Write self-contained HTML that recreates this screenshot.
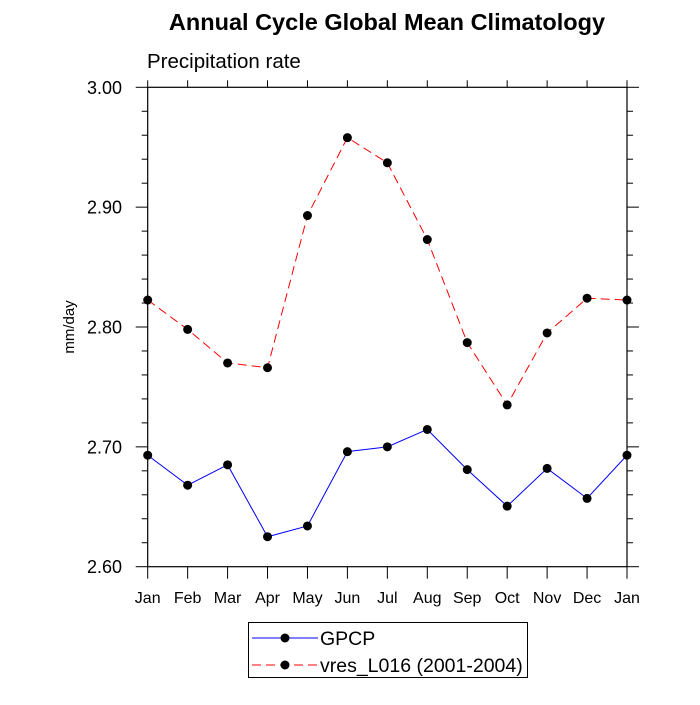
<!DOCTYPE html>
<html><head><meta charset="utf-8"><style>
body{margin:0;background:#fff}
svg text{font-family:"Liberation Sans",sans-serif}
</style></head><body>
<svg id="chart" width="700" height="700" xmlns="http://www.w3.org/2000/svg">
<rect width="700" height="700" fill="#fff"/>
<text x="387" y="30" text-anchor="middle" font-size="23.5" font-weight="bold">Annual Cycle Global Mean Climatology</text>
<text x="147" y="68" font-size="20.5">Precipitation rate</text>
<text transform="translate(74,327) rotate(-90)" text-anchor="middle" font-size="15">mm/day</text>
<g id="axes"></g>
<g id="series"></g>
<g id="legend">
<rect x="248.5" y="622.5" width="279" height="55" fill="none" stroke="#000"/>
<line x1="252" y1="638" x2="318" y2="638" stroke="#00f"/>
<circle cx="285" cy="638" r="4.5"/>
<text x="320" y="645" font-size="19.5">GPCP</text>
<line x1="252" y1="665" x2="318" y2="665" stroke="#f00" stroke-dasharray="9,5"/>
<circle cx="285" cy="665" r="4.5"/>
<text x="320" y="672" font-size="19.5">vres_L016 (2001-2004)</text>
</g>
</svg>
<script>
const months=["Jan","Feb","Mar","Apr","May","Jun","Jul","Aug","Sep","Oct","Nov","Dec","Jan"];
const gpcp=[2.693,2.668,2.685,2.625,2.634,2.696,2.700,2.7145,2.681,2.6505,2.682,2.657,2.693];
const vres=[2.8225,2.798,2.770,2.766,2.893,2.958,2.937,2.873,2.787,2.735,2.795,2.824,2.8225];
const yTicks=[2.60,2.70,2.80,2.90,3.00];
const yTickLabels=["2.60","2.70","2.80","2.90","3.00"];
const L=147.7,R=627,T=87.3,B=566.7,YMIN=2.6,YMAX=3.0;
const xs=i=>L+(R-L)*i/(months.length-1);
const ys=v=>B-(v-YMIN)/(YMAX-YMIN)*(B-T);
const NS="http://www.w3.org/2000/svg";
function mk(tag,attrs,parent){const e=document.createElementNS(NS,tag);for(const k in attrs)e.setAttribute(k,attrs[k]);parent.appendChild(e);return e;}
const ax=document.getElementById('axes');
const frame=mk('rect',{x:L,y:T,width:R-L,height:B-T,fill:'none',stroke:'#000','stroke-width':1.2},ax);


months.forEach((m,i)=>{
  const x=xs(i);
  mk('line',{x1:x,y1:B,x2:x,y2:B+12,stroke:'#000'},ax);
  mk('line',{x1:x,y1:T,x2:x,y2:T-7,stroke:'#000'},ax);
  const t=mk('text',{x:x,y:603,'text-anchor':'middle','font-size':16},ax);
  t.textContent=m;
  
  
});
for(let k=0;k<=20;k++){
  const v=YMIN+k*0.02,y=ys(v),major=k%5===0;
  const len=major?12:6;
  mk('line',{x1:L-len,y1:y,x2:L,y2:y,stroke:'#000'},ax);
  mk('line',{x1:R,y1:y,x2:R+len,y2:y,stroke:'#000'},ax);
}
yTicks.forEach((v,i)=>{
  const t=mk('text',{x:122,y:ys(v)+6.5,'text-anchor':'end','font-size':18},ax);
  t.textContent=yTickLabels[i];
  
  
});
const sg=document.getElementById('series');
function draw(vals,color,dash,name){
  const p=mk('polyline',{points:vals.map((v,i)=>xs(i)+','+ys(v)).join(' '),fill:'none',stroke:color,'stroke-width':1,'stroke-dasharray':dash},sg);
  
  
  vals.forEach((v,i)=>{
    const c=mk('circle',{cx:xs(i),cy:ys(v),r:4.5,fill:'#000'},sg);
    
    
  });
}
draw(vres,'#f00','9,5','vres');
draw(gpcp,'#00f','none','gpcp');
</script>
</body></html>
